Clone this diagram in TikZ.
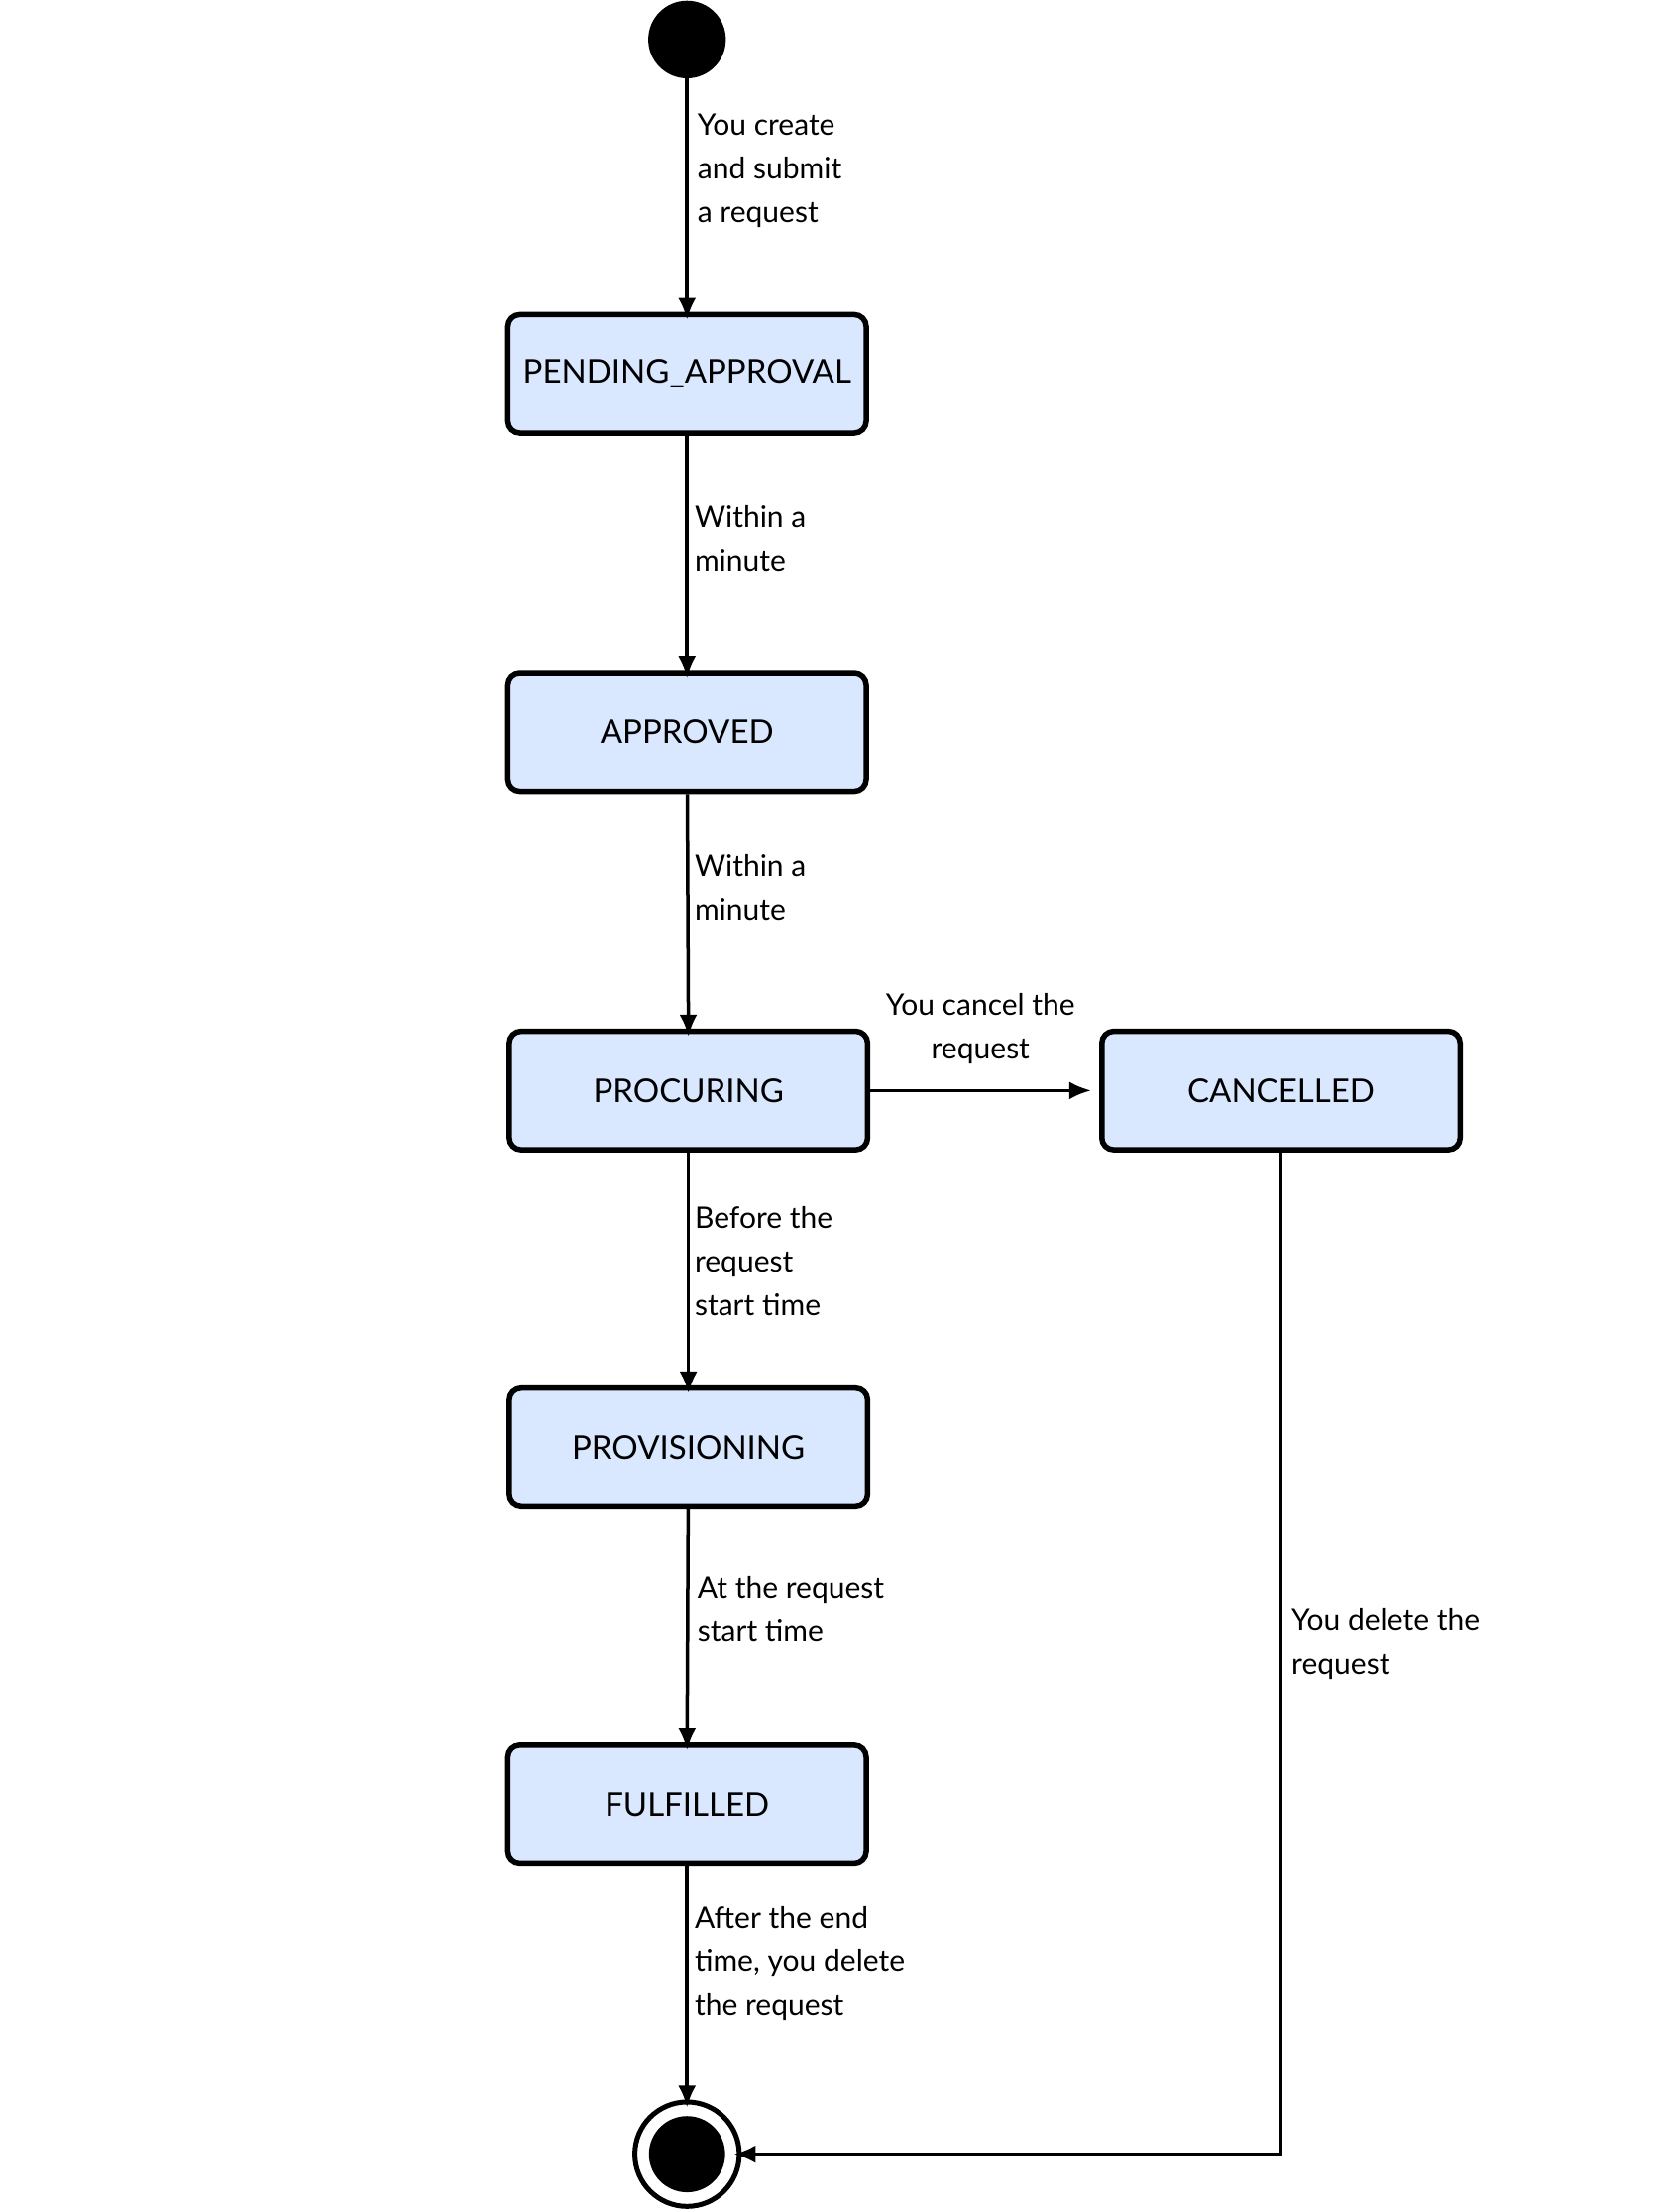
\documentclass[tikz,border=0pt]{standalone}
\usepackage{fontspec}
\setmainfont{Lato}
\usetikzlibrary{arrows.meta}

\begin{document}
\begin{tikzpicture}[x=0.05cm, y=-0.05cm,
        state_node/.style={rectangle, rounded corners=12pt, draw=black, fill=blue!60!cyan!15, line width=5.5pt, minimum width=12.7cm, minimum height=4.2cm, font=\fontsize{33}{40}\selectfont},
        label_node/.style={anchor=north west, align=left, font=\fontsize{30}{44}\selectfont},
        flow/.style={line width=3.5pt, -{Latex[length=22pt, width=18pt]}},
        ]
            \useasboundingbox (0,0) rectangle (1180,1568);
            % start and end
            \node[circle, fill=black, minimum size=2.75cm, inner sep=0pt] (start) at (487,28) {};
            \node[circle, draw=black, line width=5pt, minimum size=3.7cm, inner sep=0pt] (stop) at (487,1527) {};
            \node[circle, fill=black, minimum size=2.7cm, inner sep=0pt] (stop_in) at (487,1527) {};

            % states
            \node[state_node]    (pending)       at (487,265)     {PENDING\_APPROVAL};
            \node[state_node]    (approved)      at (487,519)     {APPROVED};
            \node[state_node]    (procuring)     at (488,773)     {PROCURING};
            \node[state_node]    (cancelled)     at (908,773)     {CANCELLED};
            \node[state_node]    (provisioning)  at (488,1026)    {PROVISIONING};
            \node[state_node]    (fulfilled)     at (487,1279)    {FULFILLED};
            \coordinate          (corner)        at (908,1527);

            % Lines
            \draw[flow] (start) -- ([yshift=-8pt]pending.north);
            \draw[flow] (pending) -- ([yshift=-8pt]approved.north);
            \draw[flow] (approved) -- ([yshift=-8pt]procuring.north);
            \draw[flow] (procuring) -- ([xshift=-8pt]cancelled.west);
            \draw[flow] (procuring) -- ([yshift=-8pt]provisioning.north);
            \draw[flow] (provisioning) -- ([yshift=-8pt]fulfilled.north);
            \draw[flow] (fulfilled) -- ([yshift=-8pt]stop.north);
            \draw[flow] (cancelled) |- ([xshift=-8pt]stop.east);

            % labels
            \node[label_node] (l_create)  at (492,78)   {You create\\and submit\\a request};
            \node[label_node] (l_min1)    at (490,356)  {Within a\\minute};
            \node[label_node] (l_min2)    at (490,603)  {Within a\\minute};
            \node[label_node, align=center, anchor=north] (l_cancel) at (695,702) {You cancel the\\request};
            \node[label_node] (l_before)  at (490,853)  {Before the\\request\\start time};
            \node[label_node] (l_at)      at (492,1115) {At the request\\start time};
            \node[label_node] (l_delete)  at (913,1138) {You delete the\\request};
            \node[label_node] (l_after)   at (490,1349) {After the end\\time, you delete\\the request};
        \end{tikzpicture}
\end{document}
